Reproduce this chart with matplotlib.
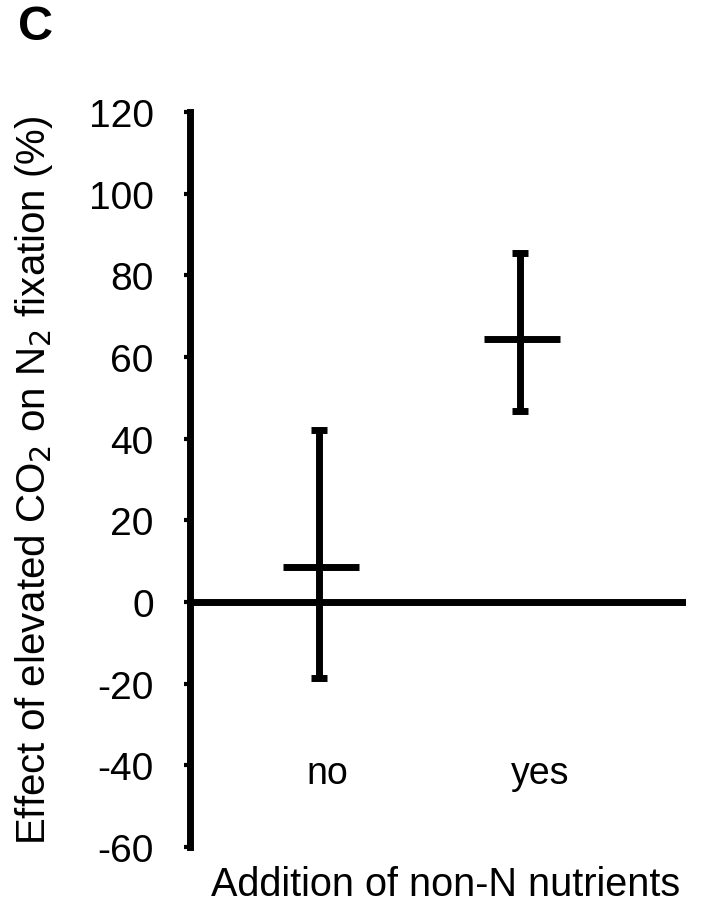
import numpy as np
import matplotlib
matplotlib.use('Agg')
import matplotlib.pyplot as plt

plt.rcParams['font.family'] = ['Liberation Sans', 'DejaVu Sans']
plt.rcParams['axes.unicode_minus'] = False

# Daten
categories = ["no", "yes"]
means = [8.5, 64.5]
upper = [42.0, 85.5]
lower = [-18.6, 46.7]

xpos = np.arange(1, len(categories) + 1)
err = [np.array(means) - np.array(lower), np.array(upper) - np.array(means)]

fig = plt.figure(figsize=(7.11, 9.03), dpi=100)
ax = fig.add_axes([0.267, 0.061, 0.698, 0.814])

# Fehlerbalken
ax.errorbar(xpos, means, yerr=err, fmt='none', ecolor='black', elinewidth=5,
            capsize=6, capthick=5, zorder=3)
# Mittelwerte als kurze waagerechte Striche
for x, m in zip(xpos, means):
    ax.hlines(m, x - 0.18, x + 0.2, color='black', linewidth=5, zorder=3)

ax.axhline(0, color='black', linewidth=5, zorder=2)

ax.set_xlim(0.358, 2.826)
ax.set_ylim(-60, 120)
ax.set_yticks(np.arange(-60, 121, 20))
ax.set_xticks([])

for s in ['top', 'right', 'bottom']:
    ax.spines[s].set_visible(False)
ax.spines['left'].set_linewidth(5)
ax.spines['left'].set_capstyle('projecting')
ax.tick_params(axis='y', length=4, width=3, labelsize=28, pad=22)

# Kategorien
for x, c in zip(xpos, categories):
    ax.text(x + 0.04 + (0.06 if c == "yes" else 0), -42, c, ha='center', va='center', fontsize=27)

ax.set_ylabel("Effect of elevated CO$_2$ on N$_2$ fixation (%)", fontsize=29, labelpad=24)
fig.text(0.626, 0.02, "Addition of non-N nutrients", ha='center', va='center', fontsize=28.5)
fig.text(0.026, 0.969, "C", ha='left', va='center', fontsize=35, fontweight='bold')

fig.savefig("out.png", dpi=100)
